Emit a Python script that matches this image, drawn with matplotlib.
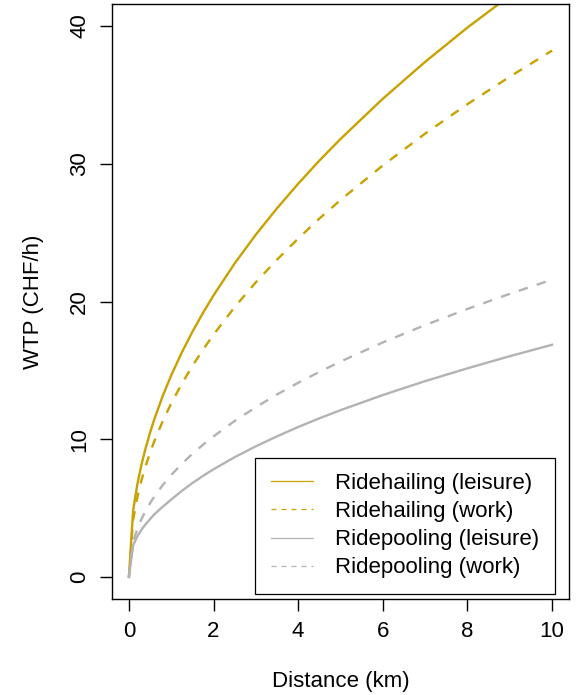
import matplotlib
matplotlib.use("Agg")
import matplotlib.pyplot as plt
from matplotlib.lines import Line2D

plt.rcParams["font.family"] = ["Liberation Sans", "DejaVu Sans"]

# =========================
# data
# =========================
dist = [0, 0.1, 0.2, 0.3, 0.4, 0.5, 0.6, 0.8, 1, 1.25, 1.5, 1.75, 2,
        2.5, 3, 3.5, 4, 4.5, 5, 6, 7, 8, 9, 10]
hail_leisure = [0, 4.83, 6.74, 8.20, 9.41, 10.48, 11.45, 13.15, 14.64,
                16.30, 17.80, 19.17, 20.45, 22.77, 24.86, 26.77, 28.55,
                30.23, 31.80, 34.72, 37.40, 39.89, 42.2, 44.4]
hail_work = [0, 4.16, 5.80, 7.06, 8.10, 9.02, 9.86, 11.32, 12.60, 14.03,
             15.32, 16.50, 17.60, 19.60, 21.40, 23.04, 24.57, 26.02,
             27.37, 29.88, 32.19, 34.33, 36.32, 38.22]
pool_leisure = [0, 2.30, 2.95, 3.45, 3.85, 4.20, 4.55, 5.10, 5.62, 6.25,
                6.82, 7.34, 7.82, 8.70, 9.49, 10.21, 10.89, 11.52, 12.11,
                13.21, 14.22, 15.15, 16.03, 16.86]
pool_work = [0, 2.54, 3.50, 4.23, 4.83, 5.36, 5.84, 6.67, 7.40, 8.21,
             8.94, 9.60, 10.21, 11.33, 12.33, 13.25, 14.10, 14.89, 15.64,
             17.03, 18.29, 19.46, 20.56, 21.59]

labels = ["Ridehailing (leisure)", "Ridehailing (work)",
          "Ridepooling (leisure)", "Ridepooling (work)"]

gold = "#C9A100"
grey = "#B3B3B3"

# =========================
# plot
# =========================
fig = plt.figure(figsize=(5.79, 6.95), dpi=100)
ax = fig.add_axes([0.1934, 0.1381, 0.9827 - 0.1934, 0.9942 - 0.1381])

series = [
    (hail_leisure, gold, "-"),
    (hail_work, gold, "--"),
    (pool_leisure, grey, "-"),
    (pool_work, grey, "--"),
]

handles = []
for vals, col, ls in series:
    line, = ax.plot(dist, vals, color=col, linestyle=ls, linewidth=1.7)
    if ls == "--":
        line.set_dashes((4, 4))
    h = Line2D([], [], color=col, linestyle=ls, linewidth=0.9)
    if ls == "--":
        h.set_dashes((4, 4))
    handles.append(h)

ax.set_xlim(-0.4, 10.4)
ax.set_ylim(-1.6, 41.6)
ax.set_xticks([0, 2, 4, 6, 8, 10])
ax.set_yticks([0, 10, 20, 30, 40])

ax.tick_params(direction="out", length=8.6, width=1.0, labelsize=16, pad=7,
               color="black")
for lab in ax.get_yticklabels():
    lab.set_rotation(90)
    lab.set_va("center")

for sp in ax.spines.values():
    sp.set_linewidth(1.0)
    sp.set_color("black")

ax.set_xlabel("Distance (km)", fontsize=16, labelpad=21)
ax.set_ylabel("WTP (CHF/h)", fontsize=16, labelpad=18)

leg = ax.legend(handles, labels, loc="lower right",
                bbox_to_anchor=(0.9694, 0.0085),
                fontsize=16, frameon=True, fancybox=False, framealpha=1,
                edgecolor="black", borderpad=0.7, labelspacing=0.32,
                handlelength=1.9, handletextpad=1.0, borderaxespad=0)
leg.get_frame().set_linewidth(0.9)

fig.savefig("out.png", dpi=100)
